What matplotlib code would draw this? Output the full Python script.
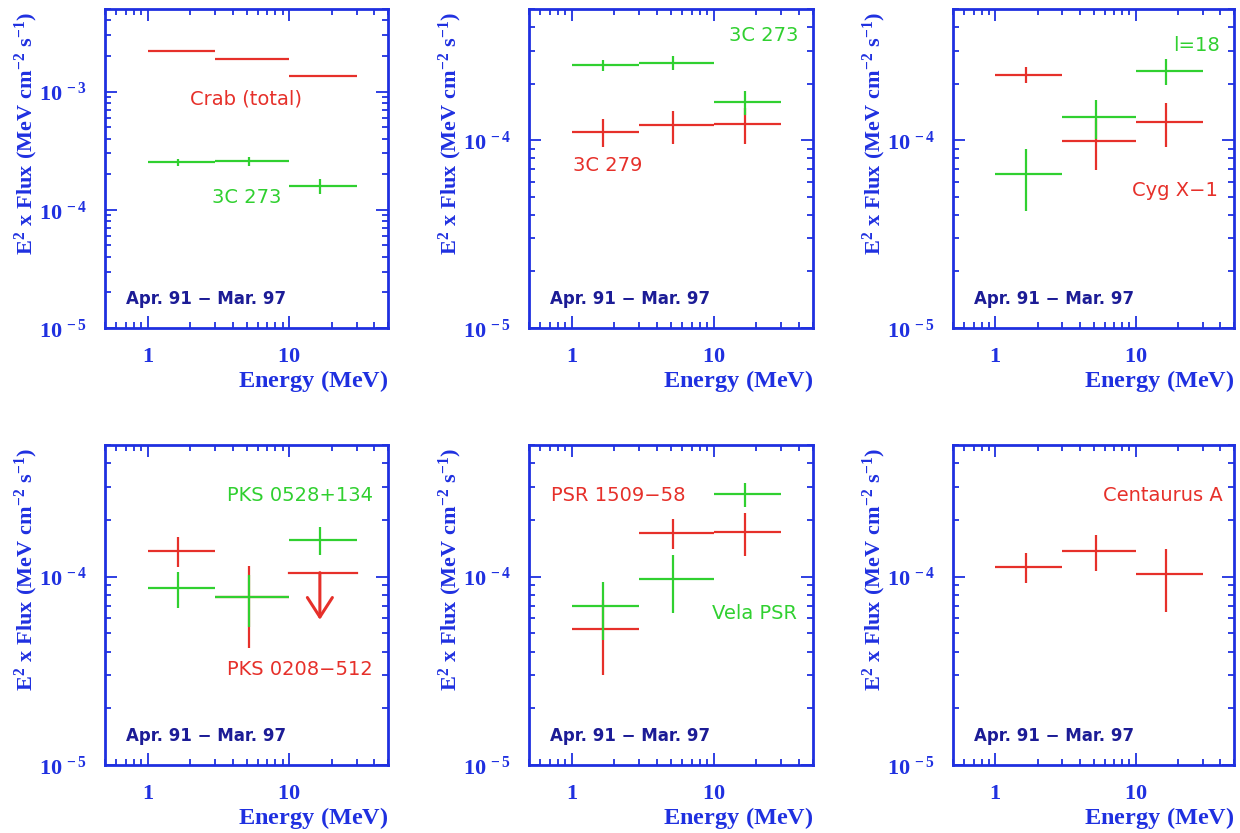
import numpy as np
import matplotlib
matplotlib.use('Agg')
import matplotlib.pyplot as plt
from matplotlib.ticker import LogLocator, FixedLocator, FuncFormatter, NullFormatter

plt.rcParams['mathtext.fontset'] = 'custom'
plt.rcParams['mathtext.rm'] = 'Liberation Serif:bold'
plt.rcParams['mathtext.bf'] = 'Liberation Serif:bold'
plt.rcParams['mathtext.it'] = 'Liberation Serif:bold'

# COMPTEL energy bins (MeV)
bin_lo = [1.0, 3.0, 10.0]
bin_hi = [3.0, 10.0, 30.0]
bin_mid = [1.65, 5.2, 16.5]

# E^2 x flux (MeV cm^-2 s^-1) and 1-sigma errors per bin
crab = [2.2e-3, 1.87e-3, 1.35e-3]
crab_err = [0.02e-3, 0.02e-3, 0.015e-3]
c273 = [2.52e-4, 2.58e-4, 1.6e-4]
c273_err = [0.17e-4, 0.22e-4, 0.23e-4]
c279 = [1.11e-4, 1.2e-4, 1.22e-4]
c279_err = [0.19e-4, 0.24e-4, 0.26e-4]
cygx1 = [2.23e-4, 0.99e-4, 1.25e-4]
cygx1_err = [0.22e-4, 0.30e-4, 0.33e-4]
l18 = [0.66e-4, 1.33e-4, 2.33e-4]
l18_err = [0.24e-4, 0.31e-4, 0.37e-4]
pks0208 = [1.37e-4, 0.78e-4]
pks0208_err = [0.25e-4, 0.36e-4]
pks0208_ul = 1.05e-4      # upper limit, 10-30 MeV
pks0208_ul_tip = 0.59e-4
pks0528 = [0.87e-4, 0.78e-4, 1.57e-4]
pks0528_err = [0.19e-4, 0.24e-4, 0.27e-4]
psr1509 = [0.525e-4, 1.71e-4, 1.73e-4]
psr1509_err = [0.225e-4, 0.31e-4, 0.45e-4]
vela = [0.70e-4, 0.97e-4, 2.74e-4]
vela_err = [0.24e-4, 0.33e-4, 0.41e-4]
cena = [1.13e-4, 1.37e-4, 1.03e-4]
cena_err = [0.21e-4, 0.30e-4, 0.38e-4]

period = 'Apr. 91 \u2212 Mar. 97'

BLUE = '#1f30e0'
NAVY = '#1c1c96'
RED = '#e6302a'
GREEN = '#30d030'

fig = plt.figure(figsize=(12.4, 8.33), dpi=100)
W, H = 1240.0, 833.0
cols = [(105, 283), (529, 284), (953, 281)]
rows = [(9, 319), (445, 320)]


def make_axes(r, c, ymax):
    left, width = cols[c]
    top, height = rows[r]
    ax = fig.add_axes([left / W, 1 - (top + height) / H, width / W, height / H])
    ax.set_xscale('log')
    ax.set_yscale('log')
    ax.set_xlim(0.5, 50)
    ax.set_ylim(1e-5, ymax)
    for sp in ax.spines.values():
        sp.set_color(BLUE)
        sp.set_linewidth(2.0)
    ax.xaxis.set_major_locator(FixedLocator([1, 10]))
    ax.xaxis.set_minor_locator(LogLocator(base=10, subs=np.arange(2, 10)))
    ax.xaxis.set_major_formatter(FuncFormatter(lambda v, p: r'$\mathbf{%d}$' % v))
    ax.xaxis.set_minor_formatter(NullFormatter())
    ax.yaxis.set_major_locator(LogLocator(base=10))
    ax.yaxis.set_minor_locator(LogLocator(base=10, subs=np.arange(2, 10)))
    ax.yaxis.set_major_formatter(FuncFormatter(
        lambda v, p: r'$\mathbf{10^{\,%d}}$' % int(round(np.log10(v)))))
    ax.yaxis.set_minor_formatter(NullFormatter())
    ax.tick_params(which='both', direction='in', top=True, right=True,
                   color=BLUE, labelcolor=BLUE, width=1.3)
    ax.tick_params(which='major', length=8.5, labelsize=16)
    ax.tick_params(axis='x', which='major', pad=13)
    ax.tick_params(axis='y', which='major', pad=13)
    ax.tick_params(which='minor', length=4)
    for t in ax.get_yticklabels():
        t.set_verticalalignment('center_baseline')
    ax.set_xlabel(r'$\mathbf{Energy\ (MeV)}$', fontsize=17.5, color=BLUE, ha='right')
    ax.xaxis.set_label_coords(1.0, -0.126)
    ax.set_ylabel(r'$\mathbf{E^{2}\ x\ Flux\ (MeV\ cm^{-2}\ s^{-1})}$',
                  fontsize=16, color=BLUE, va='center', ha='center')
    ax.yaxis.set_label_coords(-0.278, 0.61)
    ax.text(0.074, 0.09, period, transform=ax.transAxes, color=NAVY,
            fontsize=12, fontweight='bold', va='center', ha='left')
    return ax


def spectrum(ax, y, yerr, color, n=None):
    n = len(y) if n is None else n
    mid = np.array(bin_mid[:n])
    xerr = [mid - np.array(bin_lo[:n]), np.array(bin_hi[:n]) - mid]
    ax.errorbar(mid, y, yerr=yerr, xerr=xerr, fmt='none', ecolor=color,
                elinewidth=1.6, capsize=0)


def label(ax, x, y, s, color, ha='center'):
    ax.text(x, y, s, transform=ax.transAxes, color=color, fontsize=14,
            ha=ha, va='center')


# Crab and 3C 273
ax = make_axes(0, 0, 5e-3)
spectrum(ax, crab, crab_err, RED)
spectrum(ax, c273, c273_err, GREEN)
label(ax, 0.50, 0.718, 'Crab (total)', RED)
label(ax, 0.50, 0.41, '3C 273', GREEN)

# 3C 279 and 3C 273
ax = make_axes(0, 1, 5e-4)
spectrum(ax, c279, c279_err, RED)
spectrum(ax, c273, c273_err, GREEN)
label(ax, 0.947, 0.916, '3C 273', GREEN, ha='right')
label(ax, 0.155, 0.509, '3C 279', RED, ha='left')

# Cyg X-1 and galactic plane l=18
ax = make_axes(0, 2, 5e-4)
spectrum(ax, cygx1, cygx1_err, RED)
spectrum(ax, l18, l18_err, GREEN)
label(ax, 0.95, 0.885, 'l=18', GREEN, ha='right')
label(ax, 0.943, 0.43, 'Cyg X\u22121', RED, ha='right')

# PKS 0208-512 and PKS 0528+134
ax = make_axes(1, 0, 5e-4)
spectrum(ax, pks0208, pks0208_err, RED, n=2)
ax.plot([bin_lo[2], bin_hi[2]], [pks0208_ul, pks0208_ul], color=RED, lw=1.6)
ax.annotate('', xy=(bin_mid[2], pks0208_ul_tip), xytext=(bin_mid[2], pks0208_ul),
            arrowprops=dict(arrowstyle='->, head_length=0.7, head_width=0.45',
                            color=RED, lw=2.2, mutation_scale=20,
                            shrinkA=0, shrinkB=0))
spectrum(ax, pks0528, pks0528_err, GREEN)
label(ax, 0.946, 0.842, 'PKS 0528+134', GREEN, ha='right')
label(ax, 0.946, 0.297, 'PKS 0208\u2212512', RED, ha='right')

# PSR 1509-58 and Vela pulsar
ax = make_axes(1, 1, 5e-4)
spectrum(ax, psr1509, psr1509_err, RED)
spectrum(ax, vela, vela_err, GREEN)
label(ax, 0.077, 0.842, 'PSR 1509\u221258', RED, ha='left')
label(ax, 0.943, 0.472, 'Vela PSR', GREEN, ha='right')

# Centaurus A
ax = make_axes(1, 2, 5e-4)
spectrum(ax, cena, cena_err, RED)
label(ax, 0.96, 0.842, 'Centaurus A', RED, ha='right')

fig.savefig('out.png', dpi=100)
